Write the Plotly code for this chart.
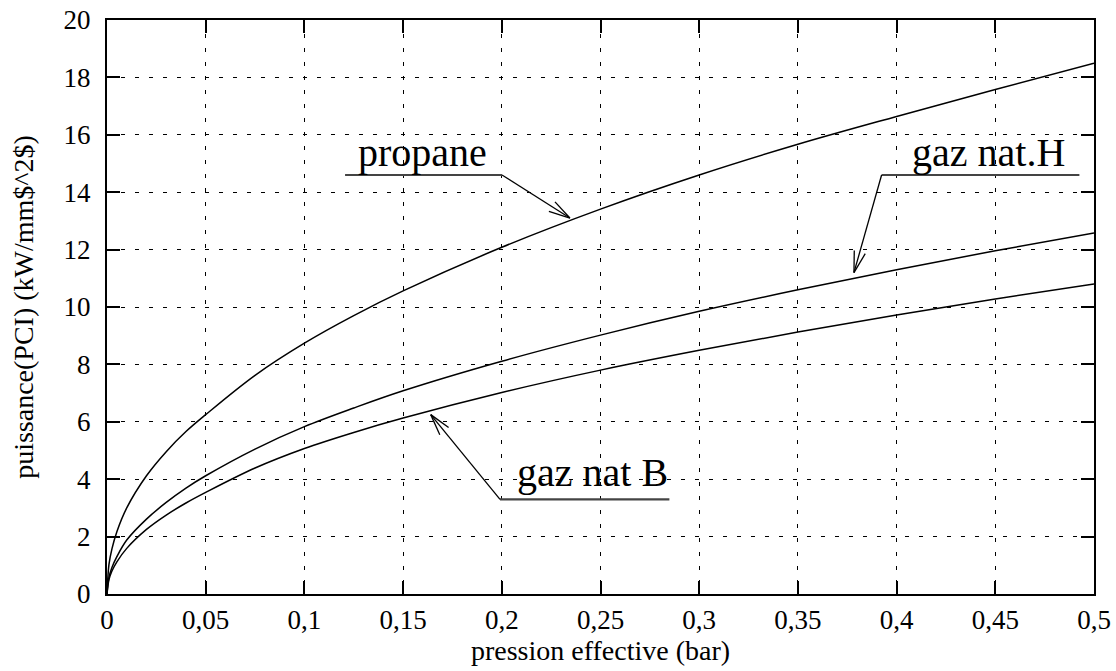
import math
import plotly.graph_objects as go

# ---------------- data ----------------
pression = [0, 0.001, 0.0025, 0.005, 0.01, 0.02, 0.03, 0.04, 0.05, 0.075,
            0.1, 0.125, 0.15, 0.2, 0.25, 0.3, 0.35, 0.4, 0.45, 0.5]
propane = [0, 1.03, 1.57, 2.17, 3.0, 4.12, 4.96, 5.66, 6.25, 7.62,
           8.74, 9.70, 10.56, 12.08, 13.41, 14.6, 15.67, 16.64, 17.58, 18.49]
gaz_nat_h = [0, 0.58, 0.92, 1.30, 1.88, 2.61, 3.19, 3.69, 4.12, 5.05,
             5.83, 6.48, 7.08, 8.11, 9.02, 9.85, 10.60, 11.30, 11.96, 12.58]
gaz_nat_b = [0, 0.50, 0.80, 1.12, 1.59, 2.25, 2.75, 3.17, 3.54, 4.39,
             5.07, 5.63, 6.13, 7.02, 7.80, 8.49, 9.13, 9.72, 10.28, 10.80]

x_ticks = [0, 0.05, 0.1, 0.15, 0.2, 0.25, 0.3, 0.35, 0.4, 0.45, 0.5]
x_tick_text = ["0", "0,05", "0,1", "0,15", "0,2", "0,25", "0,3", "0,35", "0,4", "0,45", "0,5"]
y_ticks = [0, 2, 4, 6, 8, 10, 12, 14, 16, 18, 20]

# labels: text, text position, underline start/end, leader corner side, arrow tip (data coords)
labels = [
    ("propane",   (0.160, 15.37), (0.1206, 14.6), (0.2001, 14.6), "right", (0.2345, 13.10)),
    ("gaz nat.H", (0.4465, 15.37), (0.3924, 14.6), (0.4926, 14.6), "left", (0.3784, 11.20)),
    ("gaz nat B", (0.2457, 4.23), (0.1991, 3.30), (0.2849, 3.30), "left", (0.1640, 6.25)),
]

# ---------------- layout geometry ----------------
W, H = 1116, 671
ML, MR, MT, MB = 107, 22, 20, 77
XR = (0, 0.5)
YR = (0, 20)
sx = (W - ML - MR) / (XR[1] - XR[0])
sy = (H - MT - MB) / (YR[1] - YR[0])

serif = "Liberation Serif, Times New Roman, Times, serif"

fig = go.Figure()
for ys in (propane, gaz_nat_h, gaz_nat_b):
    fig.add_trace(go.Scatter(x=pression, y=ys, mode="lines",
                             line=dict(color="black", width=1.5, shape="spline", smoothing=1.0),
                             showlegend=False, hoverinfo="skip"))

shapes = []
annotations = []
for text, tpos, u0, u1, corner_side, tip in labels:
    shapes.append(dict(type="line", xref="x", yref="y", x0=u0[0], y0=u0[1], x1=u1[0], y1=u1[1],
                       line=dict(color="#444444", width=2.2)))
    corner = u1 if corner_side == "right" else u0
    shapes.append(dict(type="line", xref="x", yref="y", x0=corner[0], y0=corner[1], x1=tip[0], y1=tip[1],
                       line=dict(color="black", width=1.3)))
    dxp = (corner[0] - tip[0]) * sx
    dyp = (corner[1] - tip[1]) * sy
    L = math.hypot(dxp, dyp)
    ux, uy = dxp / L, dyp / L
    for ang in (math.radians(15), math.radians(-15)):
        rx = ux * math.cos(ang) - uy * math.sin(ang)
        ry = ux * math.sin(ang) + uy * math.cos(ang)
        bx = tip[0] + rx * 22 / sx
        by = tip[1] + ry * 22 / sy
        shapes.append(dict(type="line", xref="x", yref="y", x0=tip[0], y0=tip[1], x1=bx, y1=by,
                           line=dict(color="black", width=1.3)))
    annotations.append(dict(x=tpos[0], y=tpos[1], xref="x", yref="y", text=text, showarrow=False,
                            xanchor="center", yanchor="middle",
                            font=dict(family=serif, size=40, color="black")))

axis_common = dict(
    showline=True, linecolor="black", linewidth=2, mirror="ticks",
    ticks="inside", ticklen=13, tickwidth=1.5, tickcolor="black",
    showgrid=True, gridcolor="black", gridwidth=1, griddash="4px,10px",
    zeroline=False,
    tickfont=dict(family=serif, size=27, color="black"),
)

fig.update_layout(
    width=W, height=H,
    margin=dict(l=ML, r=MR, t=MT, b=MB, autoexpand=False),
    paper_bgcolor="white", plot_bgcolor="white",
    font=dict(family=serif, color="black"),
    shapes=shapes, annotations=annotations,
    xaxis=dict(range=list(XR), tickvals=x_ticks, ticktext=x_tick_text,
               title=dict(text="pression effective (bar)", standoff=4,
                          font=dict(family=serif, size=28, color="black")),
               ticklabelstandoff=1, **axis_common),
    yaxis=dict(range=list(YR), tickvals=y_ticks,
               title=dict(text="puissance(PCI) (kW/mm$^2$)", standoff=22,
                          font=dict(family=serif, size=28, color="black")),
               ticklabelstandoff=9, **axis_common),
)

fig.write_html("out.html", config={"displayModeBar": False},
               post_script="document.body.style.margin='0';document.body.style.padding='0';"
                           "document.body.style.overflow='hidden';")
